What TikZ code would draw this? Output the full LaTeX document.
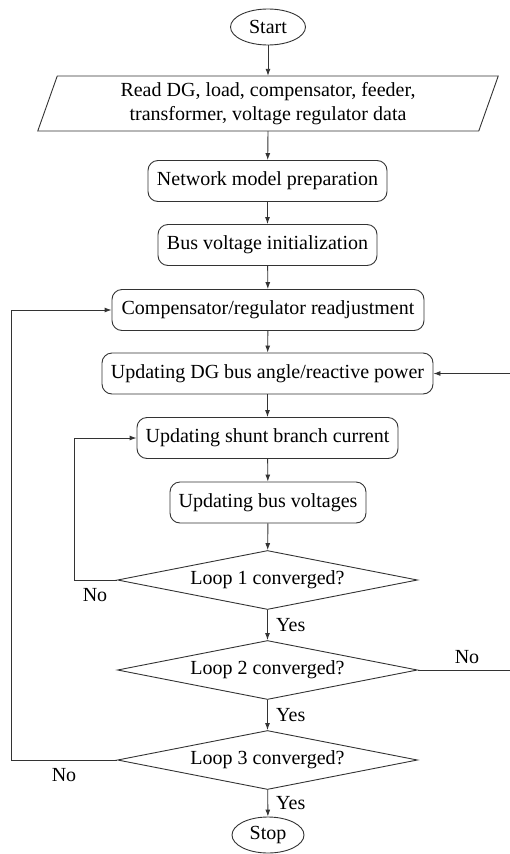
\documentclass[tikz,border=0pt]{standalone}
\usepackage{fontspec}
\setmainfont{Liberation Serif}
\usetikzlibrary{shapes.geometric,arrows.meta,calc}
\tikzset{
  base/.style={font=\fontsize{20}{24}\selectfont, inner sep=0pt, text=black},
  line/.style={draw=black!80, line width=0.9pt},
  term/.style={base, line, ellipse, minimum width=75pt, minimum height=36pt},
  proc/.style={base, line, rectangle, rounded corners=10pt, minimum height=41pt},
  dec/.style={base, line, diamond, shape aspect=5, minimum width=300pt, minimum height=59pt},
  lbl/.style={base},
  arr/.style={line, -{Latex[length=7pt,width=5pt]}},
}
\begin{document}
\begin{tikzpicture}[x=1pt,y=-1pt]
\useasboundingbox (0,0) rectangle (510,854);
\node[term] (start) at (268,27) {Start};
\node[base, minimum width=420pt, minimum height=55pt, align=center] (read) at (268,103.5)
  {Read DG, load, compensator, feeder,\\transformer, voltage regulator data};
\draw[line] ($(read.center)+(-210.75,-27.5)$) -- ($(read.center)+(230.25,-27.5)$)
  -- ($(read.center)+(210.75,27.5)$) -- ($(read.center)+(-230.25,27.5)$) -- cycle;
\node[proc, minimum width=239pt] (net) at (267.5,181) {Network model preparation};
\node[proc, minimum width=219pt] (init) at (267.5,245) {Bus voltage initialization};
\node[proc, minimum width=312pt] (comp) at (268,310) {Compensator/regulator readjustment};
\node[proc, minimum width=331pt] (dg) at (267.5,373.5) {Updating DG bus angle/reactive power};
\node[proc, minimum width=261pt] (shunt) at (267.5,438) {Updating shunt branch current};
\node[proc, minimum width=196pt] (busv) at (268,502.5) {Updating bus voltages};
\node[dec] (l1) at (267.5,580) {Loop 1 converged?};
\node[dec] (l2) at (267.5,670) {Loop 2 converged?};
\node[dec] (l3) at (267.5,760) {Loop 3 converged?};
\node[term, minimum width=72pt] (stop) at (268,835) {Stop};
\coordinate (o1) at (11,760);
\coordinate (o2) at (11,310);
\coordinate (i1) at (74,580);
\coordinate (i2) at (74,438);
\coordinate (r1) at (515,670);
\coordinate (r2) at (515,373.5);
\draw[arr] (start) -- (start |- read.north);
\draw[arr] (start |- read.south) -- (net);
\draw[arr] (net) -- (init);
\draw[arr] (init) -- (comp);
\draw[arr] (comp) -- (dg);
\draw[arr] (dg) -- (shunt);
\draw[arr] (shunt) -- (busv);
\draw[arr] (busv) -- (l1);
\draw[arr] (l1) -- (l2);
\draw[arr] (l2) -- (l3);
\draw[arr] (l3) -- (stop);
\draw[arr] (l1.west) -- (i1) -- (i2) -- (shunt.west);
\draw[arr] (l3.west) -- (o1) -- (o2) -- (comp.west);
\draw[arr] (l2.east) -- (r1) -- (r2) -- (dg.east);
\node[lbl, anchor=west] (y1) at (276,625) {Yes};
\node[lbl, anchor=west] (y2) at (276,715) {Yes};
\node[lbl, anchor=west] (y3) at (276,803) {Yes};
\node[lbl] (n1) at (95,595) {No};
\node[lbl] (n3) at (64,775) {No};
\node[lbl] (n2) at (467,657) {No};
\end{tikzpicture}
\end{document}
